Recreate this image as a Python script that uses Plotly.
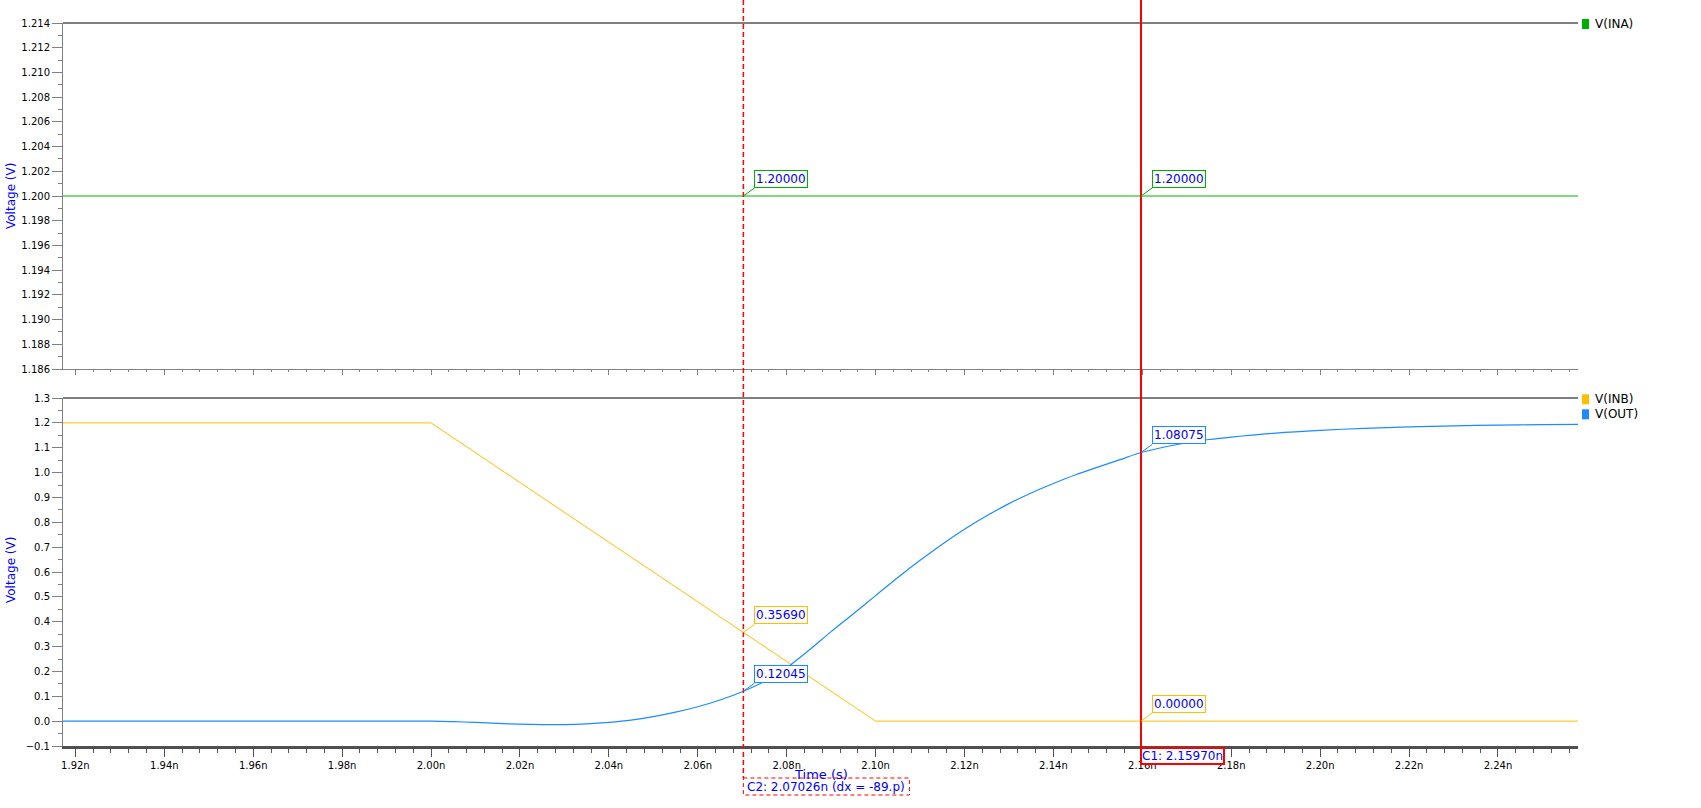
import plotly.graph_objects as go

# ---------------- data (time in ns, voltage in V) ----------------
time_ina = [1.9172, 2.258]
v_ina = [1.2, 1.2]

time_inb = [1.9172, 2.00, 2.10, 2.258]
v_inb = [1.2, 1.2, 0.0, 0.0]

time_out = [1.9172, 1.96, 2.00, 2.005, 2.01, 2.015, 2.02, 2.025, 2.03, 2.035,
            2.04, 2.045, 2.05, 2.055, 2.06, 2.065, 2.07026, 2.075, 2.08, 2.085,
            2.09, 2.095, 2.10, 2.105, 2.11, 2.115, 2.12, 2.125, 2.13, 2.135,
            2.14, 2.145, 2.15, 2.155, 2.1597, 2.165, 2.17, 2.175, 2.18, 2.19, 2.20,
            2.21, 2.22, 2.23, 2.24, 2.25, 2.258]
v_out = [0.0, 0.0, 0.0, -0.002, -0.005, -0.009, -0.012, -0.014, -0.014, -0.011,
         -0.005, 0.004, 0.018, 0.036, 0.058, 0.085, 0.12045, 0.16, 0.215, 0.285,
         0.36, 0.432, 0.505, 0.578, 0.647, 0.712, 0.772, 0.826, 0.875, 0.918,
         0.956, 0.991, 1.022, 1.052, 1.08075, 1.103, 1.120, 1.133, 1.143, 1.159, 1.170,
         1.178, 1.184, 1.188, 1.191, 1.193, 1.194]

cursor_c1 = 2.15970
cursor_c2 = 2.07026
c1_label = "C1: 2.15970n"
c2_label = "C2: 2.07026n (dx = -89.p)"

# marker readouts at the cursors
readout_cursor = [cursor_c2, cursor_c1, cursor_c2, cursor_c2, cursor_c1, cursor_c1]
readout_value = [1.20000, 1.20000, 0.35690, 0.12045, 1.08075, 0.00000]
readout_panel = ["top", "top", "bottom", "bottom", "bottom", "bottom"]
readout_trace = ["INA", "INA", "INB", "OUT", "OUT", "INB"]

legend_top = ["V(INA)"]
legend_bottom = ["V(INB)", "V(OUT)"]

# ---------------- styles ----------------
COL = {"INA": "#00b000", "INB": "#ffbf00", "OUT": "#1a8cff"}
BLUE_TXT = "#0000ff"
FONT = "DejaVu Sans"

W, H = 1701, 808
ML, MR, MT, MB = 63, 123, 23, 62
PW, PH = W - ML - MR, H - MT - MB

def py(px_from_top):
    return (H - MB - px_from_top) / PH

def px_(px_from_left):
    return (px_from_left - ML) / PW

fig = go.Figure()
fig.add_trace(go.Scatter(x=time_ina, y=v_ina, mode="lines", name="V(INA)",
                         line=dict(color=COL["INA"], width=1), xaxis="x", yaxis="y",
                         showlegend=False))
fig.add_trace(go.Scatter(x=time_inb, y=v_inb, mode="lines", name="V(INB)",
                         line=dict(color=COL["INB"], width=1), xaxis="x2", yaxis="y2",
                         showlegend=False))
fig.add_trace(go.Scatter(x=time_out, y=v_out, mode="lines", name="V(OUT)",
                         line=dict(color=COL["OUT"], width=1.2, shape="spline", smoothing=0.8),
                         xaxis="x2", yaxis="y2", showlegend=False))

xr = [1.91721, 2.258]
tickfont = dict(family=FONT, size=10, color="black")

common_x = dict(range=xr, showgrid=False, zeroline=False, dtick=0.02, tick0=1.92,
                ticks="outside", showline=True)
fig.update_layout(
    xaxis=dict(**common_x, anchor="y", domain=[0, 1], showticklabels=False,
               ticklen=5, tickcolor="#808080", linecolor="#808080", linewidth=1,
               minor=dict(dtick=0.004, ticklen=2, tickcolor="#808080", ticks="outside")),
    yaxis=dict(domain=[py(369), 1], range=[1.186, 1.214], dtick=0.002, tick0=1.186,
               tickformat=".3f", showgrid=False, zeroline=False, ticks="outside",
               ticklen=10, tickcolor="#808080", showline=True, linecolor="#808080",
               tickfont=tickfont, anchor="x",
               minor=dict(dtick=0.001, ticklen=4, tickcolor="#808080", ticks="outside")),
    xaxis2=dict(**common_x, anchor="y2", domain=[0, 1], tickformat=".2f", ticksuffix="n",
                ticklen=8, tickcolor="#505050", linecolor="#505050", linewidth=3,
                tickfont=tickfont,
                minor=dict(dtick=0.004, ticklen=4, tickcolor="#505050", ticks="outside")),
    yaxis2=dict(domain=[0, py(398)], range=[-0.1, 1.3], dtick=0.1, tick0=0,
                tickformat=".1f", showgrid=False, zeroline=False, ticks="outside",
                ticklen=10, tickcolor="#808080", showline=True, linecolor="#808080",
                tickfont=tickfont, anchor="x2",
                minor=dict(dtick=0.05, ticklen=4, tickcolor="#808080", ticks="outside")),
    width=W, height=H, margin=dict(l=ML, r=MR, t=MT, b=MB),
    paper_bgcolor="white", plot_bgcolor="white", showlegend=False,
)

shapes = []
annotations = []

# top border lines of each panel
for xd, yd in (("x domain", "y domain"), ("x2 domain", "y2 domain")):
    shapes.append(dict(type="line", xref=xd, yref=yd, x0=0, x1=1, y0=1, y1=1,
                       line=dict(color="black", width=1), layer="above"))

# cursors
shapes.append(dict(type="line", xref="x", yref="paper", x0=cursor_c2, x1=cursor_c2,
                   y0=py(0), y1=py(778),
                   line=dict(color="#ff0000", width=1.5, dash="5px,3px"), layer="above"))
shapes.append(dict(type="line", xref="x", yref="paper", x0=cursor_c1, x1=cursor_c1,
                   y0=py(0), y1=py(747), line=dict(color="#ff0000", width=2), layer="above"))

# C2 dashed label box
shapes.append(dict(type="rect", xref="x", xsizemode="pixel", xanchor=cursor_c2, x0=0, x1=166,
                   yref="paper", ysizemode="pixel", yanchor=0, y0=-32, y1=-49,
                   line=dict(color="#ff0000", width=1, dash="4px,3px"), fillcolor="white",
                   layer="above"))
annotations.append(dict(text=c2_label, xref="x", x=cursor_c2, xanchor="left", xshift=2,
                        yref="paper", y=py(786.5), yanchor="middle", showarrow=False,
                        font=dict(family=FONT, size=12, color=BLUE_TXT)))
# C1 label box
annotations.append(dict(text=c1_label, xref="x", x=cursor_c1, xanchor="left", xshift=-1,
                        yref="paper", y=0, yanchor="top", yshift=-1, showarrow=False,
                        bgcolor="white", bordercolor="#ff0000", borderwidth=2, borderpad=0,
                        font=dict(family=FONT, size=12, color=BLUE_TXT)))

# axis titles
annotations.append(dict(text="Time (s)", xref="paper", x=0.5, xanchor="center",
                        yref="paper", y=py(774), yanchor="middle", showarrow=False,
                        font=dict(family=FONT, size=13, color=BLUE_TXT)))
for yc in (196, 570):
    annotations.append(dict(text="Voltage (V)", xref="paper", x=px_(11), xanchor="center",
                            yref="paper", y=py(yc), yanchor="middle", textangle=-90,
                            showarrow=False,
                            font=dict(family=FONT, size=12, color=BLUE_TXT)))

# readouts
for xc, val, panel, tr in zip(readout_cursor, readout_value, readout_panel, readout_trace):
    xa, ya = ("x", "y") if panel == "top" else ("x2", "y2")
    annotations.append(dict(text=f"{val:.5f}", xref=xa, yref=ya, x=xc, y=val,
                            showarrow=True, arrowhead=0, arrowwidth=1, arrowcolor=COL[tr],
                            ax=11, ay=-8, xanchor="left", yanchor="bottom",
                            bgcolor="white", bordercolor=COL[tr], borderwidth=1, borderpad=1,
                            font=dict(family=FONT, size=12, color=BLUE_TXT)))

# legends
leg_items = [(legend_top[0], "INA", 24)] + [(legend_bottom[0], "INB", 399.3),
                                           (legend_bottom[1], "OUT", 414.3)]
for name, key, yc in leg_items:
    shapes.append(dict(type="rect", xref="paper", yref="paper",
                       x0=px_(1582), x1=px_(1589), y0=py(yc - 5), y1=py(yc + 5),
                       fillcolor=COL[key], line=dict(width=0)))
    annotations.append(dict(text=name, xref="paper", yref="paper", x=px_(1593),
                            xanchor="left", y=py(yc), yanchor="middle", showarrow=False,
                            font=dict(family=FONT, size=12, color="black")))

fig.update_layout(shapes=shapes, annotations=annotations)

fig.write_html("out.html", config={"displayModeBar": False},
               post_script="document.body.style.margin='0';")
